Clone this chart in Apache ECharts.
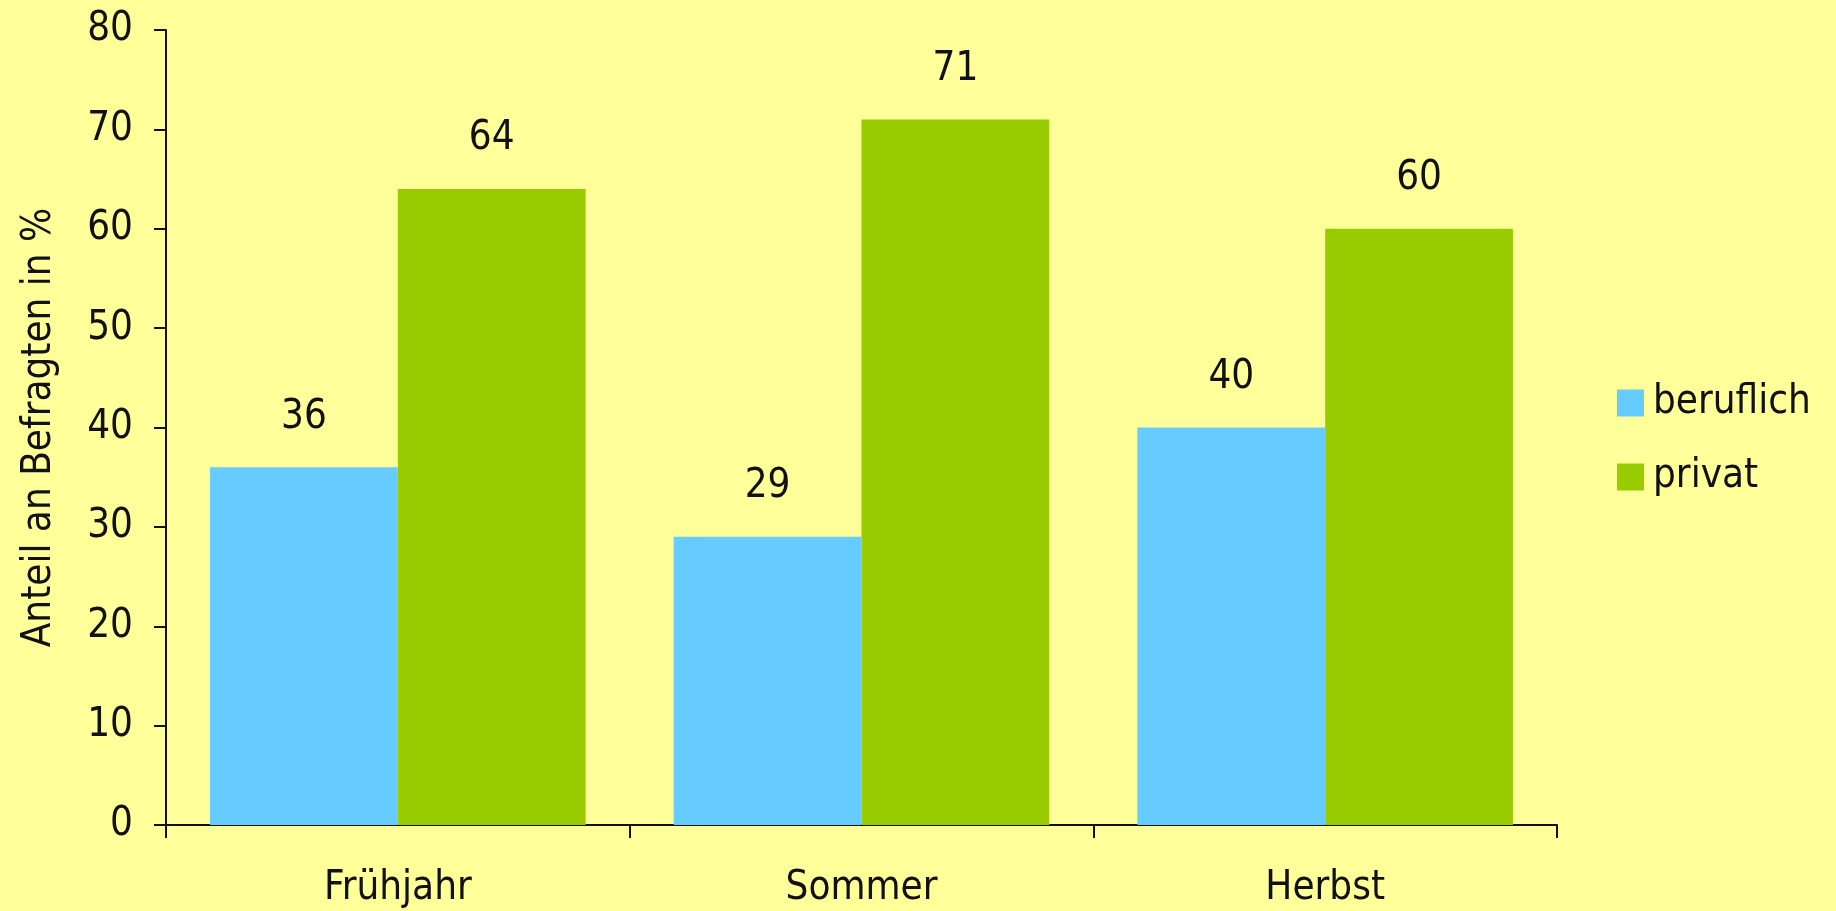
<!DOCTYPE html>
<html>
<head>
<meta charset="utf-8">
<script src="https://cdn.jsdelivr.net/npm/echarts@6/dist/echarts.min.js"></script>
<style>
  html, body { margin: 0; padding: 0; background: #ffff99; }
  #chart { width: 1836px; height: 911px; }
</style>
</head>
<body>
<div id="chart"></div>
<script>
const categories = ['Frühjahr', 'Sommer', 'Herbst']
const beruflich = [36, 29, 40]
const privat = [64, 71, 60]
const yTicks = { min: 0, max: 80, interval: 10 }

const fontFamily = '"DejaVu Sans Condensed", "Liberation Sans Narrow", "DejaVu Sans", sans-serif'
const fontSize = 40
const ink = '#111111'

const chart = echarts.init(document.getElementById('chart'))

const barLabel = {
  show: true,
  position: 'top',
  distance: 30,
  color: ink,
  fontFamily: fontFamily,
  fontSize: fontSize
}

chart.setOption({
  backgroundColor: '#ffff99',
  animation: false,
  textStyle: { fontFamily: fontFamily },
  grid: {
    left: 166,
    right: 1836 - 1557,
    top: 30,
    bottom: 911 - 825,
    containLabel: false
  },
  legend: {
    orient: 'vertical',
    left: 1617,
    top: 383,
    padding: 0,
    itemWidth: 27,
    itemHeight: 27,
    itemGap: 34,
    icon: 'rect',
    textStyle: {
      color: ink,
      fontFamily: fontFamily,
      fontSize: fontSize,
      padding: [0, 0, 0, 4]
    },
    data: ['beruflich', 'privat']
  },
  xAxis: {
    type: 'category',
    data: categories,
    boundaryGap: true,
    axisLine: { lineStyle: { color: ink, width: 2 } },
    axisTick: { show: true, length: 13, inside: false, lineStyle: { color: ink, width: 2 } },
    axisLabel: {
      color: ink,
      fontFamily: fontFamily,
      fontSize: fontSize,
      margin: 44
    }
  },
  yAxis: {
    type: 'value',
    min: yTicks.min,
    max: yTicks.max,
    interval: yTicks.interval,
    name: 'Anteil an Befragten in %',
    nameLocation: 'middle',
    nameGap: 106,
    nameTextStyle: {
      color: ink,
      fontFamily: fontFamily,
      fontSize: fontSize
    },
    axisLine: { show: true, lineStyle: { color: ink, width: 2 } },
    axisTick: { show: true, length: 12, lineStyle: { color: ink, width: 2 } },
    axisLabel: {
      color: ink,
      fontFamily: fontFamily,
      fontSize: fontSize,
      margin: 33
    },
    splitLine: { show: false }
  },
  series: [
    {
      name: 'beruflich',
      type: 'bar',
      data: beruflich,
      barGap: '0%',
      barCategoryGap: '19%',
      itemStyle: { color: '#66ccff' },
      label: barLabel
    },
    {
      name: 'privat',
      type: 'bar',
      data: privat,
      barGap: '0%',
      barCategoryGap: '19%',
      itemStyle: { color: '#99cc00' },
      label: barLabel
    }
  ]
})
</script>
</body>
</html>
